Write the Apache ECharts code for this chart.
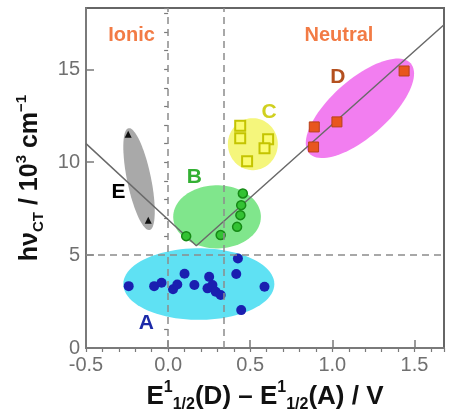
<!DOCTYPE html>
<html><head><meta charset="utf-8">
<script src="https://cdn.jsdelivr.net/npm/echarts/dist/echarts.min.js"></script>
<style>html,body{margin:0;padding:0;background:#fff}#c{width:449px;height:416px}</style>
</head><body><div id="c"></div>
<script>
// ---- data ----
const groupA = [[-0.24,3.33],[-0.085,3.33],[-0.04,3.51],[0.03,3.16],[0.056,3.42],[0.10,4.0],[0.16,3.39],[0.25,3.83],[0.24,3.21],[0.27,3.39],[0.29,3.03],[0.32,2.85],[0.425,4.82],[0.415,3.98],[0.445,2.04],[0.587,3.30]];
const groupB = [[0.11,6.02],[0.32,6.08],[0.455,8.32],[0.445,7.69],[0.44,7.15],[0.42,6.52]];
const groupC = [[0.439,11.96],[0.439,11.29],[0.609,11.24],[0.587,10.75],[0.481,10.05]];
const groupD = [[1.437,14.91],[0.89,11.90],[1.028,12.17],[0.886,10.82]];
const groupE = [[-0.243,11.5],[-0.121,6.88]];
const vLine = [[-0.5,11.0],[0.172,5.5],[1.68,17.4]];
const dividerX = [0, 0.34];
const dividerY = [5];
// ellipses: centre, end of major semi-axis (data units), minor/major ratio
const ellipseNames = ['A','B','C','D','E'];
const ellipseCenters = [[0.187,3.44],[0.298,7.06],[0.516,10.97],[1.168,12.9],[-0.177,9.09]];
const ellipseAxisEnds = [[0.647,3.44],[0.565,7.06],[0.668,10.97],[1.477,15.32],[-0.241,11.83]];
const ellipseRatios = [0.474,0.72,1.04,0.42,0.23];
// annotations
const annTexts = ['Ionic','Neutral','A','B','C','D','E'];
const annPos = [[-0.223,16.83],[1.04,16.83],[-0.132,1.34],[0.16,9.19],[0.615,12.69],[1.034,14.57],[-0.302,8.39]];
const xTicksMajor = 0.5, xTicksMinor = 0.1, yTicksMajor = 5, yTicksMinor = 1;

// ---- styles ----
const FONT = "'Liberation Sans', Arial, sans-serif";
const ellipseColors = ['#5fe1f3','#80e68c','#f5f67c','#f27ef0','#a9a9a9'];
const annColors = ['#f27b45','#f27b45','#1c2aa8','#33b033','#d0d020','#b4501f','#000000'];
const annSizes = [20,20,21,21,21,21,21];
const axisGray = '#7a7a7a';

const chart = echarts.init(document.getElementById('c'), null, {renderer:'canvas'});

function rich(size, subSize){
  return {
    m:{fontSize:size, fontWeight:'bold', fontFamily:FONT, color:'#111', lineHeight:size+7, verticalAlign:'middle'},
    p:{fontSize:subSize, fontWeight:'bold', fontFamily:FONT, color:'#111', verticalAlign:'top', lineHeight:subSize},
    s:{fontSize:subSize, fontWeight:'bold', fontFamily:FONT, color:'#111', verticalAlign:'bottom', lineHeight:subSize}
  };
}

function baseX(extra){
  return Object.assign({type:'value', min:-0.5, max:1.68, gridIndex:0, splitLine:{show:false},
    axisLine:{show:true, onZero:false, lineStyle:{color:axisGray, width:2}}}, extra);
}
function baseY(extra){
  return Object.assign({type:'value', min:0, max:18.3, gridIndex:0, splitLine:{show:false},
    axisLine:{show:true, onZero:false, lineStyle:{color:axisGray, width:2}}}, extra);
}

const option = {
  animation:false,
  backgroundColor:'#ffffff',
  textStyle:{fontFamily:FONT},
  grid:{left:86, right:5, top:8, bottom:68, show:true, borderColor:'#666', borderWidth:2, backgroundColor:'transparent', outerBoundsMode:'none'},
  xAxis:[
    baseX({interval:xTicksMajor,
      axisTick:{inside:true, length:8, lineStyle:{color:axisGray, width:1.5}},
      axisLabel:{show:true, showMaxLabel:false, fontSize:20, color:'#707070', margin:7, fontFamily:FONT,
        formatter:v=>v.toFixed(1)},
      name:'{m|E}{p|1}{s|1/2}{m|(D) – E}{p|1}{s|1/2}{m|(A) / V}',
      nameLocation:'middle', nameGap:31,
      nameTextStyle:{rich:rich(26,16)}
    }),
    baseX({interval:xTicksMinor, axisLine:{show:false},
      axisTick:{inside:true, length:4, lineStyle:{color:axisGray, width:1.2}},
      axisLabel:{show:false}})
  ],
  yAxis:[
    baseY({interval:yTicksMajor,
      axisTick:{inside:true, length:8, lineStyle:{color:axisGray, width:1.5}},
      axisLabel:{show:true, showMaxLabel:false, fontSize:20, color:'#707070', margin:6, fontFamily:FONT},
      name:'{m|hν}{s|CT}{m| / 10}{p|3}{m| cm}{p|−1}',
      nameLocation:'middle', nameGap:40,
      nameTextStyle:{rich:rich(25,15)}
    }),
    baseY({interval:yTicksMinor, axisLine:{show:false},
      axisTick:{inside:true, length:4, lineStyle:{color:axisGray, width:1.2}},
      axisLabel:{show:false}})
  ],
  series:[
    {
      type:'custom', name:'regions', xAxisIndex:0, yAxisIndex:0, z:1, silent:true,
      data: ellipseNames.map((n,i)=>[ellipseCenters[i][0],ellipseCenters[i][1],ellipseAxisEnds[i][0],ellipseAxisEnds[i][1],ellipseRatios[i]]),
      renderItem:function(params, api){
        const c = api.coord([api.value(0), api.value(1)]);
        const e = api.coord([api.value(2), api.value(3)]);
        const r = api.value(4);
        const dx = e[0]-c[0], dy = e[1]-c[1];
        const a = Math.hypot(dx,dy), b = a*r, ang = Math.atan2(dy,dx);
        const pts = [];
        for (let k=0;k<90;k++){
          const t = k/90*2*Math.PI, x = a*Math.cos(t), y = b*Math.sin(t);
          pts.push([c[0]+x*Math.cos(ang)-y*Math.sin(ang), c[1]+x*Math.sin(ang)+y*Math.cos(ang)]);
        }
        return {type:'polygon', shape:{points:pts}, style:{fill:ellipseColors[params.dataIndex]}};
      }
    },
    {
      type:'line', name:'guides', data:[], z:2, silent:true,
      markLine:{silent:true, symbol:'none', label:{show:false},
        lineStyle:{type:[7,5], color:'#8c8c8c', width:1.5},
        data: dividerX.map(v=>({xAxis:v})).concat(dividerY.map(v=>({yAxis:v})))}
    },
    {
      type:'line', name:'V', data:vLine, symbol:'none', z:3, silent:true,
      lineStyle:{color:'#6a6a6a', width:1.5}
    },
    {type:'scatter', name:'A', data:groupA, symbol:'circle', symbolSize:10, z:4,
      itemStyle:{color:'#1a1fb0', opacity:1}},
    {type:'scatter', name:'B', data:groupB, symbol:'circle', symbolSize:9, z:4,
      itemStyle:{color:'#33c233', borderColor:'#168a16', borderWidth:1.5, opacity:1}},
    {type:'scatter', name:'C', data:groupC, symbol:'rect', symbolSize:10, z:4,
      itemStyle:{color:'#fbfb70', borderColor:'#c4c400', borderWidth:2, opacity:1}},
    {type:'scatter', name:'D', data:groupD, symbol:'rect', symbolSize:10, z:4,
      itemStyle:{color:'#e8561e', borderColor:'#b8401a', borderWidth:1, opacity:1}},
    {type:'scatter', name:'E', data:groupE, symbol:'triangle', symbolSize:7, z:4,
      itemStyle:{color:'#111', opacity:1}},
    {type:'scatter', name:'labels', symbolSize:0, z:5, silent:true, itemStyle:{opacity:1},
      data: annTexts.map((t,i)=>({value:annPos[i], name:t,
        label:{show:true, position:'inside', formatter:t, color:annColors[i], opacity:1, fontSize:annSizes[i], fontWeight:'bold', fontFamily:FONT}}))
    }
  ]
};
chart.setOption(option);
</script></body></html>
